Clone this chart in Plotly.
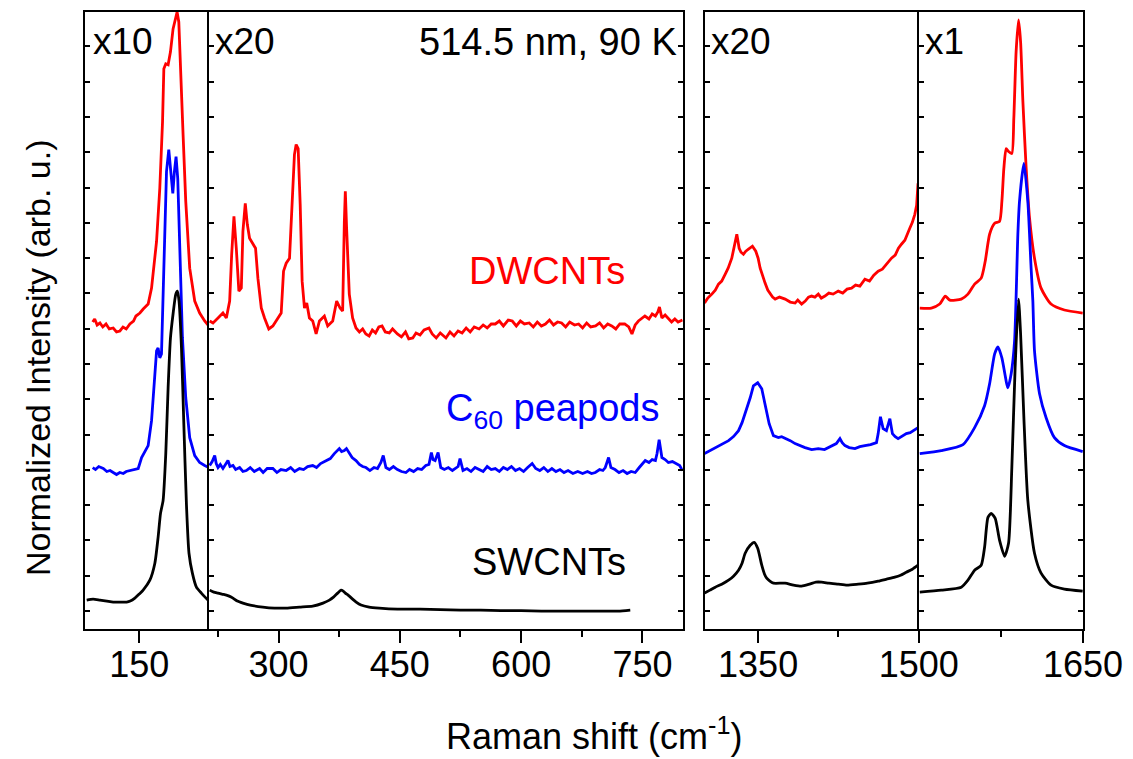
import plotly.graph_objects as go

# ---------------- data: Raman shift (cm^-1) and stacked normalized intensity (arb. u.) ----------------
# Panel 1 : RBM region, x10
p1_red_x = [92.5, 95, 98, 101.5, 105, 109, 113, 117.9, 122, 126.2, 130, 134, 138.5, 143, 146, 150.9, 155, 158,
            161.1, 165.3, 168, 171.5, 175.5, 178.9, 180.5, 182.9, 185.8, 188.7, 191.9, 194.9, 196.9, 199, 201,
            204.3, 207.6, 212.5, 218.7, 224.8, 231, 236]
p1_red_y = [308, 311, 305, 307, 303, 306, 301, 302, 298, 299, 303, 301, 306, 309, 314, 317, 321, 324,
            326, 342, 360, 389, 442, 509, 562, 567, 566, 579, 602, 614, 619, 609, 562,
            496, 429, 362, 329, 317, 309, 304]
p1_blue_x = [92.5, 96, 100, 105.6, 110, 114, 117.9, 122, 126, 130.3, 134, 138.5, 148.8, 153, 161.1, 165.3, 168.1,
             171.5, 173.4, 175.5, 177.6, 179.6, 181.7, 183.8, 186.6, 189.1, 191.6, 193.6, 195.6, 197.7, 200.2,
             203.5, 207.6, 212.5, 218.7, 224.8, 231, 236]
p1_blue_y = [162, 160, 163, 161, 158, 159, 157, 155, 157, 156, 158, 159, 161, 172, 184, 209, 242,
             279, 282, 272, 276, 342, 409, 459, 481, 459, 437, 459, 474, 452, 376,
             292, 232, 192, 174, 167, 164, 162]
p1_black_x = [85.1, 93, 101.5, 110, 117.9, 126, 134.5, 139, 144.7, 150, 154.9, 163.2, 169.4, 173.4, 176.4, 179.6,
              182.9, 185.8, 188.7, 191.9, 195.3, 197.3, 199.3, 202.3, 205.1, 208.4, 211.6, 215.8, 220.8, 226.9, 235.1]
p1_black_y = [29, 30, 29, 28, 27, 27, 27, 28, 31, 35, 39, 49, 66, 92, 116, 129,
              176, 242, 292, 316, 336, 339, 329, 282, 209, 126, 76, 56, 42, 36, 29]

# Panel 2 : 215-800 cm^-1, x20
p2_red_x = [214.9, 219, 225.2, 231.3, 235.5, 239.6, 242.1, 244.9, 247.8, 251.0, 254.0, 256.0, 258.9, 261.4, 264.2,
            267.6, 271.6, 274.5, 278.7, 282.7, 288.0, 293.0, 299.1, 303.3, 306.2, 309.5, 313.6, 316.9, 319.7, 321.8,
            324.3, 326.8, 329.2, 332.1, 334.9, 338.2, 342.3, 346.5, 350.6, 356.7, 360.8, 367.0, 371.9, 376.1, 379.3,
            381.4, 382.6, 384.2, 387.5, 391.6, 395.8, 400, 404, 408, 412, 416, 420, 424, 428, 432, 437, 441, 447,
            452, 457, 461, 466, 470, 475, 480, 486, 490, 495, 500, 507, 512, 517, 522, 527, 532, 537, 542, 548,
            553, 558, 563, 568, 573, 578, 584, 589, 594, 599, 604, 610, 615, 620, 625, 630, 635, 640, 645, 650,
            655, 660, 666, 671, 676, 681, 686, 692, 697, 702, 707, 712, 717, 722, 728, 733, 737, 741, 745, 749,
            753, 758, 762, 766, 769, 771, 774, 778, 782, 786, 790, 794, 799.4]
p2_red_y = [309, 307, 312, 317, 312, 329, 376, 414, 382, 339, 342, 399, 427, 406, 392,
            387, 382, 352, 322, 312, 301, 304, 312, 317, 359, 367, 372, 426, 476, 486,
            482, 426, 349, 322, 327, 312, 309, 296, 309, 314, 304, 309, 329, 322, 319,
            409, 439, 402, 336, 312, 302, 298, 301, 296, 294, 300, 297, 303, 304, 298, 297, 301, 296,
            293, 298, 291, 292, 297, 295, 300, 302, 296, 292, 297, 292, 298, 294, 299, 297, 302, 298, 303, 301,
            305, 302, 306, 306, 309, 304, 310, 309, 304, 309, 306, 307, 303, 308, 304, 306, 310, 305, 308, 307,
            303, 308, 305, 306, 302, 307, 303, 304, 307, 302, 306, 304, 301, 306, 306, 303, 296, 305, 309, 312,
            314, 311, 316, 314, 318, 323, 312, 315, 312, 308, 311, 308, 310]
p2_blue_x = [214.9, 218, 221.1, 223, 225.2, 228, 231.3, 234, 237.5, 240, 243.7, 247, 251.9, 256, 260.2, 265, 270,
             276.6, 281, 286, 293, 298, 303, 309.5, 315, 320, 325.9, 331, 336, 342.3, 347, 352, 358.8, 364, 369,
             375.2, 378, 381.4, 384, 387.5, 391, 395.8, 400, 404, 408.1, 413, 418, 422.4, 426.6, 429.5, 432.8, 437,
             442, 447, 452, 457.5, 462, 467, 472, 477, 482.1, 486, 489, 491, 493.6, 497.3, 500.6, 505, 510, 515,
             519.1, 522, 524.4, 528.1, 533, 538, 543, 548, 553, 558, 563, 568, 573, 578, 583, 588, 593, 598, 603,
             608, 613.6, 618, 623, 628, 633, 638, 643, 648, 653, 658, 664, 670, 676, 682, 687, 691.7, 697, 701,
             704, 708.1, 711, 716, 721, 726, 731, 736, 741, 746, 750, 753.4, 758, 762, 766, 768, 770.6, 772, 774,
             778, 782, 787, 792, 796, 799.4]
p2_blue_y = [164, 168, 174, 166, 162, 165, 161, 165, 169, 163, 164, 160, 162, 158, 159, 162, 158,
             161, 157, 161, 161, 157, 160, 159, 162, 158, 161, 160, 163, 164, 162, 166, 169, 171, 176,
             181, 178, 179, 181, 177, 172, 169, 165, 163, 162, 159, 162, 161, 167, 174, 162, 160,
             163, 160, 158, 157, 160, 158, 161, 160, 164, 165, 177, 170, 169, 177, 162, 160, 162, 159,
             161, 163, 171, 159, 161, 158, 162, 160, 158, 163, 160, 161, 158, 162, 160, 163, 159, 161, 158,
             162, 166, 161, 159, 162, 158, 161, 158, 160, 157, 159, 156, 158, 156, 158, 156, 157, 160, 159,
             162, 172, 162, 160, 157, 159, 156, 158, 157, 162, 166, 169, 167, 170, 169, 176, 190, 180, 172,
             170, 167, 168, 166, 164, 159]
p2_black_x = [214.9, 220, 225.2, 230, 235.5, 239, 243.7, 249, 256, 265, 280.6, 295, 309.5, 326, 342.3, 355, 362.9,
              368, 373.1, 377.3, 380, 382.6, 386, 391.6, 396, 402, 412, 424.5, 447.1, 475, 500, 525, 550, 575,
              600, 625, 650, 675, 700, 720, 734.9]
p2_black_y = [39, 37, 36, 35, 34, 33, 31, 28, 26, 24, 22, 21, 21, 22, 23, 26, 29,
              32, 36, 39, 38, 36, 34, 30, 27, 24, 22, 21, 20, 20, 19.5, 19, 19, 18.5,
              18.5, 18, 18, 18, 18, 18, 19]

# Panel 3 : D-band region 1300-1500 cm^-1, x20
p3_red_x = [1300, 1303, 1306.8, 1310, 1313, 1316, 1319.3, 1322, 1325.4, 1327.9, 1330.1, 1332.3, 1334, 1336.3,
            1338.5, 1341, 1344.7, 1347.8, 1350, 1351.9, 1354, 1356.5, 1359, 1361.2, 1363.5, 1365.9, 1370, 1375.2,
            1380, 1384.5, 1387, 1390.6, 1394, 1397, 1399.9, 1403, 1406.2, 1409, 1412.4, 1416, 1420, 1424.8, 1429,
            1433, 1437.2, 1441, 1445, 1449.7, 1454, 1458, 1462.1, 1466, 1470, 1474.5, 1478, 1481, 1483.8, 1487,
            1491.6, 1494, 1496.3, 1498, 1499.3]
p3_red_y = [327, 332, 336, 340, 346, 349, 356, 362, 372, 386, 396, 382, 378, 376,
            379, 381, 384, 379, 372, 362, 354, 347, 340, 336, 333, 331, 333, 331,
            328, 327, 330, 326, 329, 333, 334, 333, 336, 332, 334, 337, 336, 339, 337,
            341, 342, 345, 344, 351, 349, 355, 359, 361, 366, 372, 375, 382, 386, 390,
            402, 408, 416, 425, 447]
p3_blue_x = [1300, 1305, 1310, 1316, 1322.4, 1327, 1331.7, 1335, 1337.9, 1340, 1342.6, 1345.6, 1349.6, 1353.4,
             1356.5, 1360.3, 1364.3, 1368.9, 1372, 1376.7, 1380, 1384.5, 1389, 1393.8, 1400, 1406.2, 1412, 1418.6,
             1423, 1426.4, 1428.5, 1431.1, 1435, 1440.4, 1445, 1449.7, 1455, 1460.5, 1462.1, 1464.2, 1466.7,
             1469.8, 1473, 1475.4, 1478, 1480.7, 1484, 1488.4, 1492, 1496, 1499.3]
p3_blue_y = [176, 179, 182, 185, 189, 193, 199, 207, 216, 224, 232, 244, 247, 241,
             226, 206, 194, 192, 193, 191, 189, 186, 184, 182, 180, 181, 180, 184,
             186, 191, 187, 184, 182, 181, 183, 184, 185, 187, 196, 213, 201,
             199, 211, 196, 193, 191, 193, 196, 197, 200, 202]
p3_black_x = [1300, 1305, 1310, 1316, 1322.4, 1327, 1331.7, 1335, 1337.9, 1342.6, 1346.3, 1349.6, 1353.4, 1356,
              1358, 1361, 1364.3, 1375.2, 1383, 1390.6, 1398, 1404, 1409.3, 1416, 1424.8, 1433, 1443.5, 1452,
              1462.1, 1470, 1477.6, 1483, 1488.4, 1494, 1499.3]
p3_black_y = [36, 39, 42, 45, 49, 53, 59, 66, 76, 84, 87, 81, 64, 55,
              51, 48, 46, 46, 44, 43, 45, 47, 47, 46, 45, 44, 45, 46,
              48, 50, 52, 54, 57, 60, 64]

# Panel 4 : G-band region 1500-1650 cm^-1, x1
p4_red_x = [1500.9, 1511.5, 1519.1, 1524.2, 1528.3, 1538.8, 1544.9, 1551, 1557, 1560.7, 1564.7, 1569.3, 1573.8,
            1575.9, 1577.7, 1579.8, 1582, 1585, 1586.8, 1588.9, 1591.1, 1593, 1595.1, 1598.1, 1601.2, 1605.7,
            1611.7, 1620.8, 1633, 1649.7]
p4_red_y = [322, 322, 326, 334, 330, 331, 336, 346, 352, 369, 396, 407, 409,
            429, 462, 482, 479, 477, 512, 579, 611, 589, 529, 462, 412, 372,
            342, 326, 320, 317]
p4_blue_x = [1500.9, 1520.6, 1540.4, 1551, 1560.1, 1564.7, 1569.3, 1572.3, 1575.9, 1581.4, 1584.4, 1587.5, 1590.5,
             1592, 1596, 1599.6, 1602.6, 1604.2, 1605.7, 1610.3, 1616.3, 1623.9, 1633, 1649.7]
p4_blue_y = [176, 179, 185, 202, 224, 246, 276, 283, 272, 242, 256, 289, 396,
             429, 467, 429, 362, 329, 279, 236, 212, 192, 184, 178]
p4_black_x = [1500.9, 1520.6, 1538.8, 1544.9, 1551, 1557, 1560.1, 1563.2, 1566.2, 1569.8, 1573.8, 1578.4, 1582,
              1585, 1588, 1591.1, 1593, 1596, 1599.6, 1605.7, 1611.7, 1620.8, 1633, 1649.7]
p4_black_y = [37, 39, 42, 49, 59, 64, 82, 112, 116, 111, 89, 73, 86,
              162, 262, 331, 296, 212, 129, 76, 56, 44, 40, 38]

panel_ranges = [[83, 236], [213.7, 800], [1300, 1500], [1500, 1650]]
major_ticks = [[150], [300, 450, 600, 750], [1350], [1500, 1650]]
minor_ticks = [[], [225, 375, 525, 675], [1425], [1575]]
top_ticks = [[150], [225, 300, 375, 450, 525, 600, 675, 750], [1350, 1425], [1575]]
scale_labels = ["x10", "x20", "x20", "x1"]

# ---------------- layout geometry ----------------
W, H = 1133, 759
L, R, T, B = 85, 1085.3, 10, 629
YMAX = 619
panel_px = [(85, 209), (209, 684.3), (706, 920.7), (920.7, 1085.3)]


def px2x(px):
    return (px - L) / (R - L)


def px2y(py):
    return (B - py) / (B - T)


FONT = "Liberation Sans, Arial, sans-serif"
RED, BLUE, BLACK = "#FF0000", "#0000FF", "#000000"
LW = 2.8

series = [
    [(p1_red_x, p1_red_y, RED, "linear"), (p1_blue_x, p1_blue_y, BLUE, "linear"), (p1_black_x, p1_black_y, BLACK, "spline")],
    [(p2_red_x, p2_red_y, RED, "linear"), (p2_blue_x, p2_blue_y, BLUE, "linear"), (p2_black_x, p2_black_y, BLACK, "spline")],
    [(p3_red_x, p3_red_y, RED, "linear"), (p3_blue_x, p3_blue_y, BLUE, "linear"), (p3_black_x, p3_black_y, BLACK, "spline")],
    [(p4_red_x, p4_red_y, RED, "spline"), (p4_blue_x, p4_blue_y, BLUE, "spline"), (p4_black_x, p4_black_y, BLACK, "spline")],
]

fig = go.Figure()
for i, panel in enumerate(series):
    sfx = "" if i == 0 else str(i + 1)
    for xs, ys, col, shp in panel:
        line = dict(color=col, width=LW, shape=shp)
        if shp == "spline":
            line["smoothing"] = 0.6
        fig.add_trace(go.Scatter(x=xs, y=ys, mode="lines", line=line, showlegend=False,
                                 hoverinfo="skip", xaxis="x" + sfx, yaxis="y" + sfx))

ytickvals = [18 + 35.4 * k for k in range(17)]
layout = dict(width=W, height=H, margin=dict(l=L, r=W - R, t=T, b=H - B),
              paper_bgcolor="white", plot_bgcolor="white",
              font=dict(family=FONT, size=36, color="black"), showlegend=False)

for i in range(4):
    sfx = "" if i == 0 else str(i + 1)
    d0, d1 = px2x(panel_px[i][0]), px2x(panel_px[i][1])
    layout["xaxis" + sfx] = dict(
        domain=[max(0, d0), min(1, d1)], range=panel_ranges[i], anchor="y" + sfx,
        showgrid=False, zeroline=False, showline=True, linecolor="black", linewidth=2.2, mirror=True,
        ticks="outside", tickvals=major_ticks[i], ticklen=12, tickwidth=2.2, tickcolor="black",
        ticklabelstandoff=-9,
        minor=dict(tickvals=minor_ticks[i], ticks="outside", ticklen=6, tickwidth=2.2, tickcolor="black"),
        tickfont=dict(family=FONT, size=36, color="black"))
    # left/right frame lines; the panel to the right draws the shared divider
    layout["yaxis" + sfx] = dict(
        domain=[0, 1], range=[0, YMAX], anchor="x" + sfx,
        showgrid=False, zeroline=False, showline=True, linecolor="black", linewidth=2.2,
        mirror="ticks" if i in (1, 3) else False,
        ticks="inside", tickvals=ytickvals, ticklen=5, tickwidth=2, tickcolor="black", showticklabels=False)
    # inside ticks along the top frame
    layout["xaxis" + str(i + 5)] = dict(
        overlaying="x" + sfx, side="top", anchor="y" + sfx, range=panel_ranges[i],
        showgrid=False, zeroline=False, showline=False,
        ticks="inside", tickvals=top_ticks[i], ticklen=5, tickwidth=2, tickcolor="black", showticklabels=False)

fig.update_layout(**layout)

ann = []
label_left_px = [91, 213, 710, 925]
for lbl, lx in zip(scale_labels, label_left_px):
    ann.append(dict(text=lbl, x=px2x(lx), y=px2y(40), xanchor="left", yanchor="middle",
                    font=dict(color=BLACK, size=37, family=FONT)))
ann.append(dict(text="514.5 nm, 90 K", x=px2x(680), y=px2y(40), xanchor="right", yanchor="middle",
                font=dict(color=BLACK, size=38, family=FONT)))
ann.append(dict(text="DWCNTs", x=px2x(548), y=px2y(270), xanchor="center", yanchor="middle",
                font=dict(color=RED, size=38, family=FONT)))
ann.append(dict(text="C<sub>60</sub> peapods", x=px2x(445), y=px2y(410), xanchor="left", yanchor="middle",
                font=dict(color=BLUE, size=38, family=FONT)))
ann.append(dict(text="SWCNTs", x=px2x(550), y=px2y(562), xanchor="center", yanchor="middle",
                font=dict(color=BLACK, size=38, family=FONT)))
ann.append(dict(text="Raman shift (cm<sup>-1</sup>)", x=px2x(595), y=px2y(734), xanchor="center", yanchor="middle",
                font=dict(color=BLACK, size=36, family=FONT)))
ann.append(dict(text="Normalized Intensity (arb. u.)", x=px2x(38), y=px2y(357), xanchor="center",
                yanchor="middle", textangle=-90, font=dict(color=BLACK, size=34, family=FONT)))
for a in ann:
    a.update(xref="paper", yref="paper", showarrow=False)
fig.update_layout(annotations=ann)

fig.write_html("out.html")
